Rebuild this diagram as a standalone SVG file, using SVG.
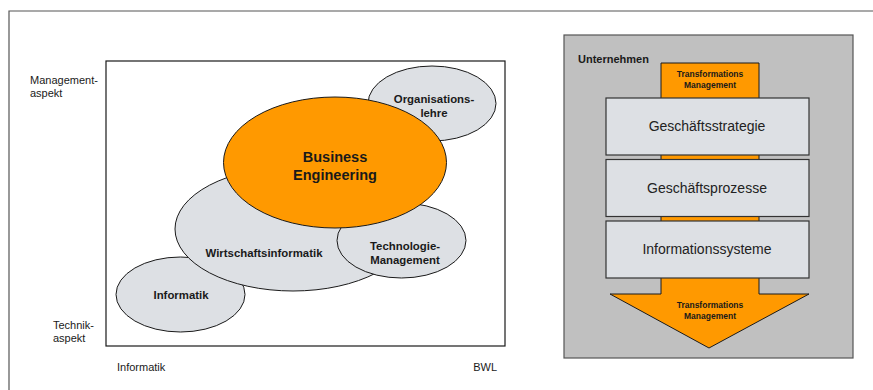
<svg xmlns="http://www.w3.org/2000/svg" width="873" height="390" viewBox="0 0 873 390">
  <style>
    text { font-family: "Liberation Sans", Arial, sans-serif; fill: #1a1a1a; }
    .axis { font-size: 11px; }
    .lbl { font-size: 11.4px; font-weight: bold; text-anchor: middle; }
    .big { font-size: 14.5px; font-weight: bold; text-anchor: middle; }
    .layer { font-size: 14px; text-anchor: middle; fill: #222; }
    .tm { font-size: 8.5px; font-weight: bold; text-anchor: middle; }
    .bubble { fill: #dde0e4; stroke: #1a1a1a; stroke-width: 1; }
    .core { fill: #ff9900; stroke: #1a1a1a; stroke-width: 1; }
    .layerbox { fill: #dde0e4; stroke: #333; stroke-width: 1.2; }
  </style>

  <rect width="873" height="390" fill="#ffffff"/>
  <!-- page frame -->
  <path d="M9,390 V11 H873" fill="none" stroke="#555" stroke-width="1.2"/>

  <!-- left: discipline map -->
  <g id="map">
    <rect x="106" y="61" width="399" height="285" fill="#ffffff" stroke="#1a1a1a" stroke-width="1.2"/>
    <text class="axis" x="30" y="84">Management-</text>
    <text class="axis" x="30" y="97">aspekt</text>
    <text class="axis" x="53" y="329">Technik-</text>
    <text class="axis" x="53" y="342">aspekt</text>
    <text class="axis" x="117" y="371">Informatik</text>
    <text class="axis" x="497" y="371" text-anchor="end">BWL</text>
  </g>

  <g id="organisationslehre">
    <ellipse class="bubble" cx="432" cy="103.5" rx="64" ry="37.5"/>
    <text class="lbl" x="434" y="103">Organisations-</text>
    <text class="lbl" x="434" y="117">lehre</text>
  </g>

  <g id="informatik">
    <ellipse class="bubble" cx="180.5" cy="294.5" rx="64.5" ry="37.5"/>
    <text class="lbl" x="181" y="299">Informatik</text>
  </g>

  <g id="wirtschaftsinformatik">
    <ellipse class="bubble" cx="293" cy="229" rx="118" ry="62"/>
    <text class="lbl" x="264" y="257">Wirtschaftsinformatik</text>
  </g>

  <g id="technologie-management">
    <ellipse class="bubble" cx="401.5" cy="240.5" rx="64.5" ry="37.5"/>
    <text class="lbl" x="405" y="250">Technologie-</text>
    <text class="lbl" x="405" y="264">Management</text>
  </g>

  <g id="business-engineering">
    <ellipse class="core" cx="335" cy="162.5" rx="111.5" ry="65.5"/>
    <text class="big" x="335" y="162">Business</text>
    <text class="big" x="335" y="180">Engineering</text>
  </g>

  <!-- right: enterprise layers -->
  <g id="unternehmen">
    <rect x="564" y="35" width="289" height="323" fill="#c0c0c0" stroke="#555" stroke-width="1.2"/>
    <text x="578" y="63" font-size="11px" font-weight="bold">Unternehmen</text>
  </g>

  <g id="transformations-management">
    <path class="core" d="M661,63 H759 V294 H809 L709,348 L610,294 H661 Z"/>
    <text class="tm" x="710" y="77">Transformations</text>
    <text class="tm" x="710" y="88">Management</text>
    <text class="tm" x="710" y="308">Transformations</text>
    <text class="tm" x="710" y="319">Management</text>
  </g>

  <g id="geschaeftsstrategie">
    <rect class="layerbox" x="606" y="98" width="203" height="57"/>
    <text class="layer" x="707" y="131">Geschäftsstrategie</text>
  </g>

  <g id="geschaeftsprozesse">
    <rect class="layerbox" x="606" y="159.5" width="203" height="57"/>
    <text class="layer" x="707" y="193">Geschäftsprozesse</text>
  </g>

  <g id="informationssysteme">
    <rect class="layerbox" x="606" y="221" width="203" height="57"/>
    <text class="layer" x="707" y="254">Informationssysteme</text>
  </g>

  <g id="connectors"></g>
</svg>
